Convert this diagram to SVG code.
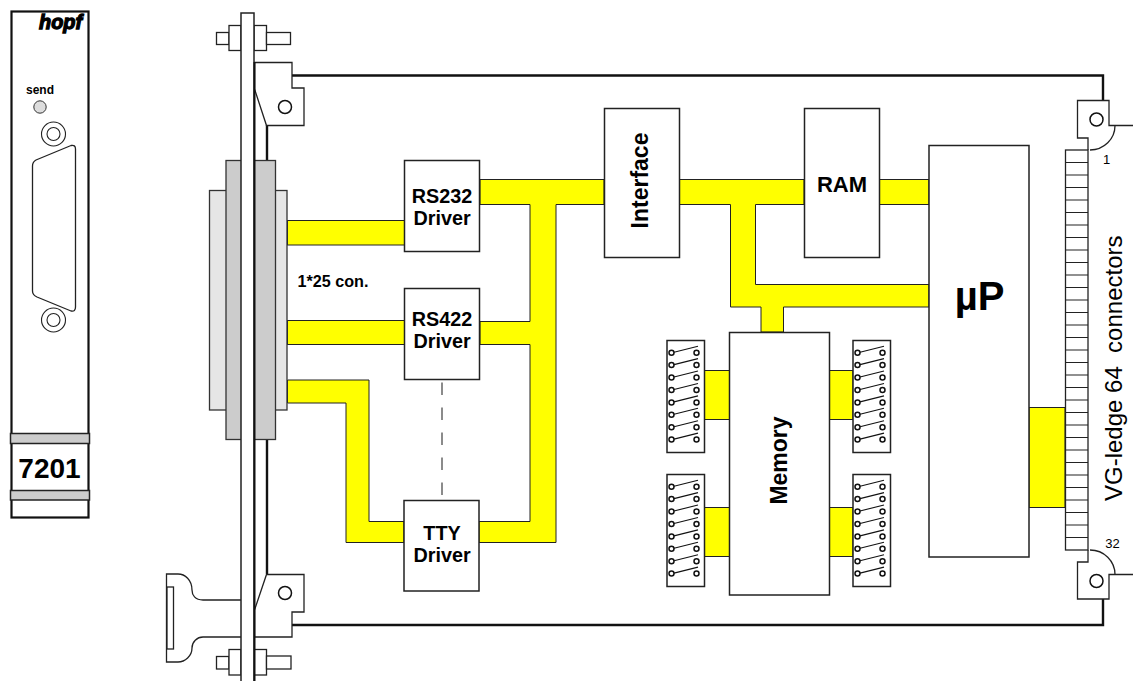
<svg xmlns="http://www.w3.org/2000/svg" xmlns:xlink="http://www.w3.org/1999/xlink" width="1133" height="681" viewBox="0 0 1133 681">
<style>
text{font-family:"Liberation Sans",Arial,sans-serif;fill:#000}
.b{font-weight:bold;text-anchor:middle}
.box{fill:#fff;stroke:#222;stroke-width:1.5}
.thin{fill:#fff;stroke:#222;stroke-width:1.3}
.none{fill:none;stroke:#222;stroke-width:1.3}
.thick{fill:none;stroke:#111;stroke-width:2.4}
.bus{fill:#ff0;stroke:#222;stroke-width:1}
.ring{fill:#fff;stroke:#111;stroke-width:1.5}
.ring2{fill:#fff;stroke:#222;stroke-width:1.1}
.sw{fill:#fff;stroke:#111;stroke-width:1.5}
.swl{stroke:#111;stroke-width:1.1}
</style>
<defs>
<g id="switch"><line x1="674" y1="-0.5" x2="698" y2="-6.5" class="swl"/><circle cx="671.500" cy="0" r="2.500" class="sw"/><circle cx="696.500" cy="0" r="2.500" class="sw"/></g>
<g id="swbox">
<rect x="667" y="340.500" width="37.500" height="112" class="box"/>
<use xlink:href="#switch" y="352.700"/><use xlink:href="#switch" y="365.100"/><use xlink:href="#switch" y="377.500"/><use xlink:href="#switch" y="390"/><use xlink:href="#switch" y="402.400"/><use xlink:href="#switch" y="414.800"/><use xlink:href="#switch" y="427.200"/><use xlink:href="#switch" y="439.600"/>
</g>
</defs>

<g id="front-panel">
<rect x="11.500" y="11.500" width="77" height="506" fill="#fff" stroke="#111" stroke-width="2.200"/>
<rect x="10.500" y="433.500" width="79" height="10" fill="#ccc" stroke="#222" stroke-width="1.500"/>
<rect x="10.500" y="490.500" width="79" height="9.500" fill="#ccc" stroke="#222" stroke-width="1.500"/>
<text x="60.500" y="29" font-size="21" font-weight="bold" font-style="italic" text-anchor="middle" stroke="#000" stroke-width="1.300" textLength="43" lengthAdjust="spacingAndGlyphs">hopf</text>
<text x="40" y="94" font-size="12" class="b">send</text>
<circle cx="40" cy="107" r="6.200" fill="#ddd" stroke="#333" stroke-width="1"/>
<circle cx="53.500" cy="134" r="12" class="ring2"/><circle cx="53.500" cy="134" r="6.500" class="ring2"/>
<circle cx="53.500" cy="320" r="12" class="ring2"/><circle cx="53.500" cy="320" r="6.500" class="ring2"/>
<path d="M36,160 L71,145.500 Q75.500,144.500 75.500,149 V307 Q75.500,312 71,311 L37,297 Q32.500,295 32.500,291 V166 Q32.500,162 36,160 Z" class="none"/>
<text x="49.500" y="478" font-size="28" class="b">7201</text>
</g>

<g id="board">
<path d="M292,75.500 H1103 V100 M1103,599 V625 H292 M267,125 V161 M267,439 V574" class="thick"/>
</g>

<g id="connectors">
<rect x="287.500" y="220.500" width="117" height="24.500" class="bus"/>
<rect x="287.500" y="320.500" width="117" height="24" class="bus"/>
<path d="M287.500,380 H369 V521.500 H404 V542.500 H346 V403 H287.500 Z" class="bus"/>
<path d="M480,179.500 H604 V204.500 H556 V542.500 H479 V521.500 H530 V344.500 H480 V321.500 H530 V204.500 H480 Z" class="bus"/>
<path d="M679,179.500 H804 V204.500 H755.500 V284.500 H929 V307 H783.500 V332 H761 V307 H730.500 V204.500 H679 Z" class="bus"/>
<rect x="879" y="179.500" width="50" height="25" class="bus"/>
<rect x="704" y="370.500" width="25.500" height="49" class="bus"/>
<rect x="704" y="507.500" width="25.500" height="49" class="bus"/>
<rect x="829" y="370.500" width="24" height="49" class="bus"/>
<rect x="829" y="507.500" width="24" height="49" class="bus"/>
<rect x="1029" y="407.500" width="36" height="100" class="bus"/>
<line x1="442" y1="382.500" x2="442" y2="495" stroke="#666" stroke-width="1.500" stroke-dasharray="12.500 12.500"/>
</g>

<g id="connector-25">
<rect x="209.500" y="190.500" width="77.500" height="219.500" fill="#e6e6e6" stroke="#333" stroke-width="1.300"/>
<rect x="226" y="160.500" width="49.500" height="279" fill="#ccc" stroke="#333" stroke-width="1.300"/>
<text x="333" y="286.500" font-size="16.500" class="b" textLength="71" lengthAdjust="spacingAndGlyphs">1*25 con.</text>
</g>

<g id="handle">
<path d="M241,600 H203 C195,600 192,595 192,590 C192,580 185,574 178,574 H166.500 V662 H178 C185,662 192,656 192,648 C192,642 197,637 203,637 H241" class="thin"/>
<rect x="167" y="587" width="6.500" height="62" class="thin"/>
</g>

<g id="bolt-top">
<rect x="216.500" y="32.500" width="12.500" height="12" class="thin"/>
<rect x="229" y="25.500" width="12" height="25" class="thin"/>
<rect x="254" y="25.500" width="12.500" height="25" class="thin"/>
<rect x="266.500" y="32.500" width="24" height="12" class="thin"/>
</g>
<g id="bolt-bottom">
<rect x="216.500" y="656.500" width="12.500" height="12.500" class="thin"/>
<rect x="229" y="649.500" width="12" height="25.500" class="thin"/>
<rect x="254" y="649.500" width="12.500" height="25.500" class="thin"/>
<rect x="266.500" y="656" width="24.500" height="13" class="thin"/>
</g>

<g id="bracket-top-left">
<path d="M254.500,62.500 H292 V88 H304 V125.500 H266.500 L254.500,89 Z" class="thin"/>
<circle cx="285" cy="107" r="6.500" class="ring"/>
</g>
<g id="bracket-bottom-left">
<path d="M266.500,574.500 H304 V612 H292 V637 H254.500 V610 Z" class="thin"/>
<circle cx="285" cy="593" r="6.500" class="ring"/>
</g>

<g id="plate">
<rect x="241" y="13" width="13" height="680" fill="#fff" stroke="#222" stroke-width="1.500"/>
<line x1="254.500" y1="62" x2="254.500" y2="681" stroke="#111" stroke-width="2"/>
</g>

<g id="rs232"><rect x="404.500" y="160.500" width="75" height="91" class="box"/><text x="442" y="202.500" font-size="19.800" class="b">RS232</text><text x="442" y="225" font-size="19.800" class="b">Driver</text></g>
<g id="rs422"><rect x="404.500" y="288.500" width="75" height="91" class="box"/><text x="442" y="325.500" font-size="19.800" class="b">RS422</text><text x="442" y="347.500" font-size="19.800" class="b">Driver</text></g>
<g id="tty"><rect x="404" y="500.500" width="75" height="90.500" class="box"/><text x="442" y="540" font-size="19.800" class="b">TTY</text><text x="442" y="561.500" font-size="19.800" class="b">Driver</text></g>
<g id="interface"><rect x="604.500" y="108.500" width="75" height="149" class="box"/><text transform="translate(648,180.500) rotate(-90)" font-size="23" class="b">Interface</text></g>
<g id="ram"><rect x="804.500" y="108.500" width="75" height="149" class="box"/><text x="842" y="192" font-size="22" class="b">RAM</text></g>
<g id="up"><rect x="929" y="145.500" width="100" height="411.500" class="box"/><text x="979.500" y="310" font-size="40" class="b">µP</text></g>
<g id="memory"><rect x="729.500" y="332.500" width="100" height="262.500" class="box"/><text transform="translate(787,460.500) rotate(-90)" font-size="23" class="b">Memory</text></g>

<g id="switches-tl"><use xlink:href="#swbox"/></g>
<g id="switches-bl"><use xlink:href="#swbox" y="134"/></g>
<g id="switches-tr"><use xlink:href="#swbox" x="186"/></g>
<g id="switches-br"><use xlink:href="#swbox" x="186" y="134"/></g>

<g id="vg-ledge">
<rect x="1065.500" y="150" width="22.500" height="400" class="thin"/>
<path id="ticks" d="M1065,162.500H1088M1065,175H1088M1065,187.500H1088M1065,200H1088M1065,212.500H1088M1065,225H1088M1065,237.500H1088M1065,250H1088M1065,262.500H1088M1065,275H1088M1065,287.500H1088M1065,300H1088M1065,312.500H1088M1065,325H1088M1065,337.500H1088M1065,350H1088M1065,362.500H1088M1065,375H1088M1065,387.500H1088M1065,400H1088M1065,412.500H1088M1065,425H1088M1065,437.500H1088M1065,450H1088M1065,462.500H1088M1065,475H1088M1065,487.500H1088M1065,500H1088M1065,512.500H1088M1065,525H1088M1065,537.500H1088" stroke="#222" stroke-width="1.200" fill="none"/>
<path d="M1133,125.500 H1109 V100.500 H1077.500 V138 H1088 V150" class="none"/>
<path d="M1090,150 C1104,150 1115,139 1115,125.500" class="none"/>
<circle cx="1096.500" cy="119.500" r="6.500" class="ring"/>
<path d="M1088,550 V562 H1077.500 V599 H1109 V574.500 H1133" class="none"/>
<path d="M1090,550 C1104,550 1115,561 1115,574.500" class="none"/>
<circle cx="1096.500" cy="581" r="6.500" class="ring"/>
<text x="1106.500" y="163.500" font-size="13" text-anchor="middle" fill="#333">1</text>
<text x="1112.500" y="548" font-size="13" text-anchor="middle">32</text>
<text transform="translate(1122,501) rotate(-90)" font-size="24" xml:space="preserve">VG-ledge 64  connectors</text>
</g>
</svg>
